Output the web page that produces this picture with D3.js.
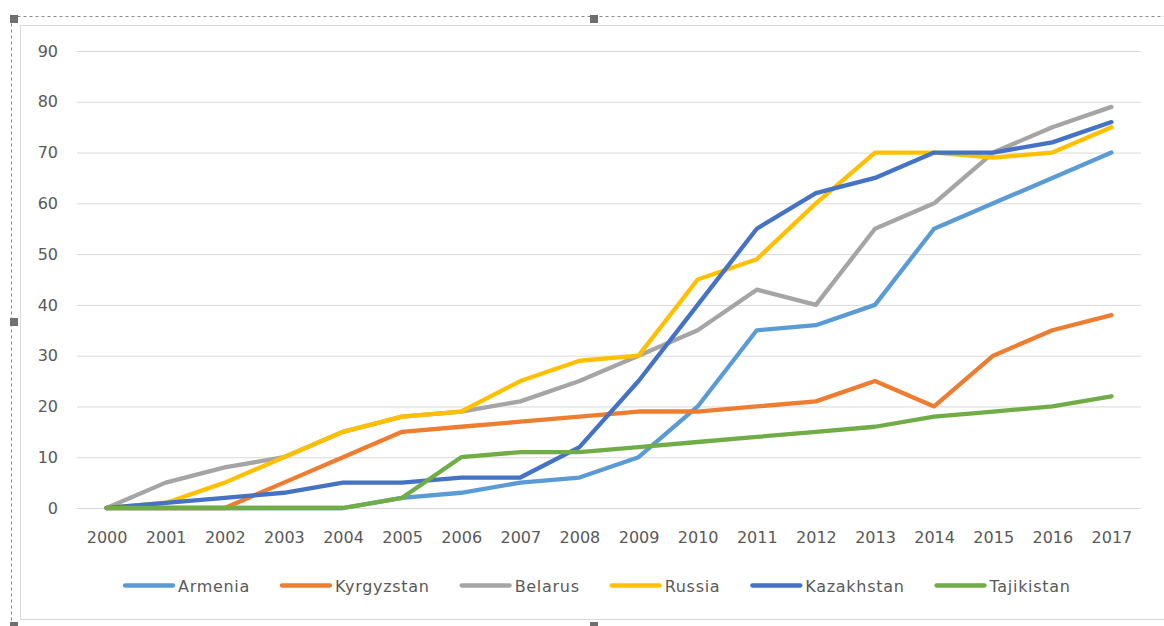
<!DOCTYPE html>
<html>
<head>
<meta charset="utf-8">
<script src="https://cdn.jsdelivr.net/npm/d3@7"></script>
<style>
  html, body { margin: 0; padding: 0; background: #fff; }
  svg { display: block; }
  text { font-family: "DejaVu Sans", Verdana, sans-serif; fill: #595959; }
</style>
</head>
<body>
<svg id="chart" width="1164" height="626"></svg>
<script>
const years = ["2000","2001","2002","2003","2004","2005","2006","2007","2008","2009","2010","2011","2012","2013","2014","2015","2016","2017"];
const seriesNames = ["Armenia","Kyrgyzstan","Belarus","Russia","Kazakhstan","Tajikistan"];
const seriesColors = ["#5B9BD5","#ED7D31","#A5A5A5","#FFC000","#4472C4","#70AD47"];
const armenia    = [0,0,0,0,0,2,3,5,6,10,20,35,36,40,55,60,65,70];
const kyrgyzstan = [0,0,0,5,10,15,16,17,18,19,19,20,21,25,20,30,35,38];
const belarus    = [0,5,8,10,15,18,19,21,25,30,35,43,40,55,60,70,75,79];
const russia     = [0,1,5,10,15,18,19,25,29,30,45,49,60,70,70,69,70,75];
const kazakhstan = [0,1,2,3,5,5,6,6,12,25,40,55,62,65,70,70,72,76];
const tajikistan = [0,0,0,0,0,2,10,11,11,12,13,14,15,16,18,19,20,22];
const yTicks = [0,10,20,30,40,50,60,70,80,90];

const seriesValues = [armenia, kyrgyzstan, belarus, russia, kazakhstan, tajikistan];

const svg = d3.select("#chart");

// selection frame (dashed) and chart area border
svg.append("rect").attr("x", 11.5).attr("y", 16.5).attr("width", 1180).attr("height", 640)
  .attr("fill", "none").attr("stroke", "#8a8a8a").attr("stroke-dasharray", "3,3");
svg.append("rect").attr("x", 20.5).attr("y", 25.5).attr("width", 1170).attr("height", 594)
  .attr("fill", "#fff").attr("stroke", "#d9d9d9");
const handles = [[10,15],[590,15],[10,318],[10,622],[590,622]];
svg.selectAll("rect.handle").data(handles).enter().append("rect").attr("class","handle")
  .attr("x", d => d[0]).attr("y", d => d[1]).attr("width", 8).attr("height", 8).attr("fill", "#6f6f6f");

const x = d3.scalePoint().domain(years).range([77, 1141]).padding(0.5);
const y = d3.scaleLinear().domain([0, 90]).range([508, 51]);

// gridlines
const yAxis = d3.axisLeft(y).tickValues(yTicks).tickSize(-(1141 - 77)).tickPadding(19);
const gy = svg.append("g").attr("transform", "translate(77,0)").call(yAxis);
gy.select(".domain").remove();
gy.selectAll(".tick line").attr("stroke", "#d9d9d9").attr("stroke-width", 1);
gy.selectAll(".tick text").attr("font-size", 16).attr("fill", "#595959")
  .style("font-family", '"DejaVu Sans", Verdana, sans-serif');

const xAxis = d3.axisBottom(x).tickSize(0).tickPadding(24);
const gx = svg.append("g").attr("transform", "translate(0,508)").call(xAxis);
gx.select(".domain").remove();
gx.selectAll(".tick text").attr("font-size", 16).attr("fill", "#595959")
  .style("font-family", '"DejaVu Sans", Verdana, sans-serif');

// lines
const line = d3.line().x((d, i) => x(years[i])).y(d => y(d));
seriesValues.forEach((vals, k) => {
  svg.append("path").datum(vals).attr("d", line)
    .attr("fill", "none").attr("stroke", seriesColors[k]).attr("stroke-width", 4.3)
    .attr("stroke-linejoin", "round").attr("stroke-linecap", "round");
});

// legend
const lg = svg.append("g");
let cx = 0;
seriesNames.forEach((name, k) => {
  const g = lg.append("g");
  g.append("line").attr("x1", 2).attr("x2", 50).attr("y1", 585.5).attr("y2", 585.5)
    .attr("stroke", seriesColors[k]).attr("stroke-width", 4.3).attr("stroke-linecap", "round");
  const t = g.append("text").attr("x", 55).attr("y", 591.5).attr("font-size", 16)
    .attr("letter-spacing", "0.7px").text(name);
  const w = t.node().getComputedTextLength();
  g.attr("transform", `translate(${cx},0)`);
  cx += 55 + w + 30;
});
const total = cx - 30;
lg.attr("transform", `translate(${Math.round(597 - total / 2)},0)`);
</script>
</body>
</html>
